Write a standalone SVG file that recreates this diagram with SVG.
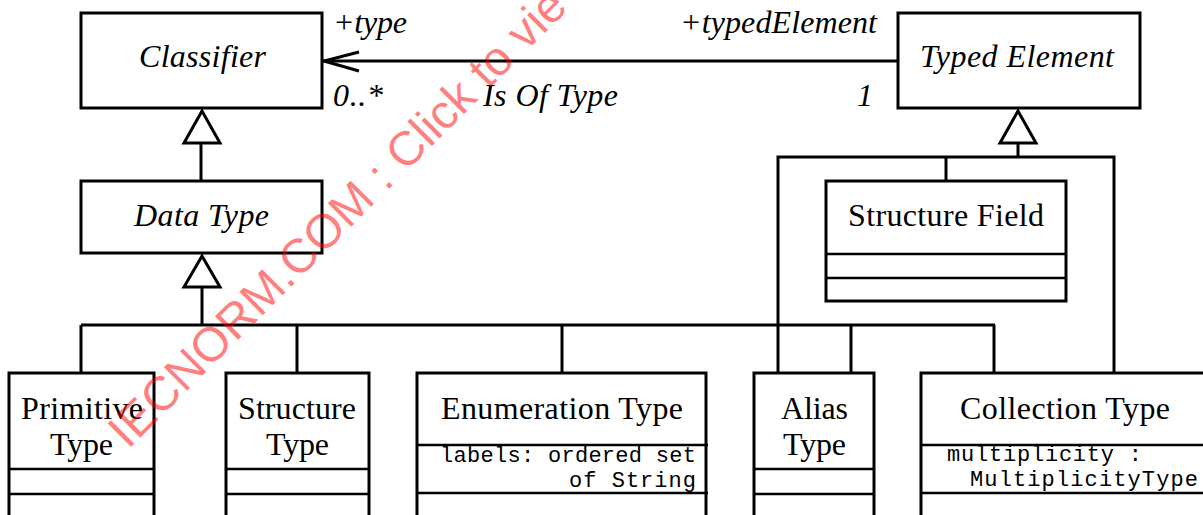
<svg xmlns="http://www.w3.org/2000/svg" width="1203" height="515" viewBox="0 0 1203 515">
<style>
.box{fill:#fff;stroke:#000;stroke-width:3}
.div{stroke:#000;stroke-width:2.5;fill:none}
.ln{stroke:#000;stroke-width:3;fill:none}
.name{font-family:"Liberation Serif","Times New Roman",serif;font-size:32px;fill:#000}
.it{font-family:"Liberation Serif","Times New Roman",serif;font-size:32px;font-style:italic;fill:#000}
.mono{font-family:"Liberation Mono","Courier New",monospace;font-size:22px;fill:#000}
.wm{font-family:"Liberation Sans",Arial,sans-serif;font-size:48px;fill:#ff0000;fill-opacity:0.5}
</style>
<rect width="1203" height="515" fill="#fff"/>
<g id="connectors">
  <path class="ln" d="M322,61 H898"/>
  <path class="ln" d="M359,52 L324,61 L359,71"/>
  <path class="ln" d="M201,143 V181"/>
  <path class="ln" d="M202,287 V325"/>
  <path class="ln" d="M81,325 H995"/>
  <path class="ln" d="M81,325 V373 M297,325 V373 M562,325 V373 M851,325 V373 M994,325 V373"/>
  <path class="ln" d="M1018,143 V157"/>
  <path class="ln" d="M778,373 V157 H1114 V373 M946,157 V181"/>
  <polygon class="ln" fill="#fff" points="202,111 184,143 220,143"/>
  <polygon class="ln" fill="#fff" points="202,256 184,287 220,287"/>
  <polygon class="ln" fill="#fff" points="1018,111 1000,143 1036,143"/>
  <text class="it" x="333" y="33" textLength="74">+type</text>
  <text class="it" x="333" y="106" textLength="50">0..*</text>
  <text class="it" x="483" y="106" textLength="135">Is Of Type</text>
  <text class="it" x="680" y="33" textLength="197">+typedElement</text>
  <text class="it" x="857" y="106">1</text>
</g>
<g id="classifier">
  <rect class="box" x="81" y="13" width="241" height="95"/>
  <text class="it" x="139" y="67" textLength="127">Classifier</text>
</g>
<g id="typed-element">
  <rect class="box" x="898" y="13" width="242" height="95"/>
  <text class="it" x="920" y="67" textLength="194">Typed Element</text>
</g>
<g id="data-type">
  <rect class="box" x="81" y="181" width="241" height="72"/>
  <text class="it" x="134" y="226" textLength="135">Data Type</text>
</g>
<g id="structure-field">
  <rect class="box" x="826" y="181" width="240" height="120"/>
  <path class="div" d="M826,254 H1066 M826,278 H1066"/>
  <text class="name" x="848" y="226" textLength="196">Structure Field</text>
</g>
<g id="primitive-type">
  <rect class="box" x="9" y="373" width="145" height="160"/>
  <path class="div" d="M9,469 H154 M9,494 H154"/>
  <text class="name" x="21" y="419" textLength="122">Primitive</text>
  <text class="name" x="50" y="455" textLength="63">Type</text>
</g>
<g id="structure-type">
  <rect class="box" x="226" y="373" width="143" height="160"/>
  <path class="div" d="M226,469 H369 M226,494 H369"/>
  <text class="name" x="238" y="419" textLength="118">Structure</text>
  <text class="name" x="266" y="455" textLength="63">Type</text>
</g>
<g id="enumeration-type">
  <rect class="box" x="417" y="373" width="289" height="160"/>
  <path class="div" d="M417,445 H708 M417,493 H708"/>
  <text class="name" x="441" y="419" textLength="242">Enumeration Type</text>
  <text class="mono" x="440" y="462" textLength="256">labels: ordered set</text>
  <text class="mono" x="569" y="487" textLength="127">of String</text>
</g>
<g id="alias-type">
  <rect class="box" x="754" y="373" width="120" height="160"/>
  <path class="div" d="M754,469 H874 M754,494 H874"/>
  <text class="name" x="781" y="419" textLength="67">Alias</text>
  <text class="name" x="783" y="455" textLength="63">Type</text>
</g>
<g id="collection-type">
  <rect class="box" x="921" y="373" width="300" height="160"/>
  <path class="div" d="M921,445 H1203 M921,493 H1203"/>
  <text class="name" x="960" y="419" textLength="210">Collection Type</text>
  <text class="mono" x="947" y="461" textLength="195">multiplicity :</text>
  <text class="mono" x="970" y="486" textLength="228">MultiplicityType</text>
</g>
<text class="wm" x="128" y="450" transform="rotate(-45 128 450)">IECNORM.COM : Click to vie</text>
</svg>
